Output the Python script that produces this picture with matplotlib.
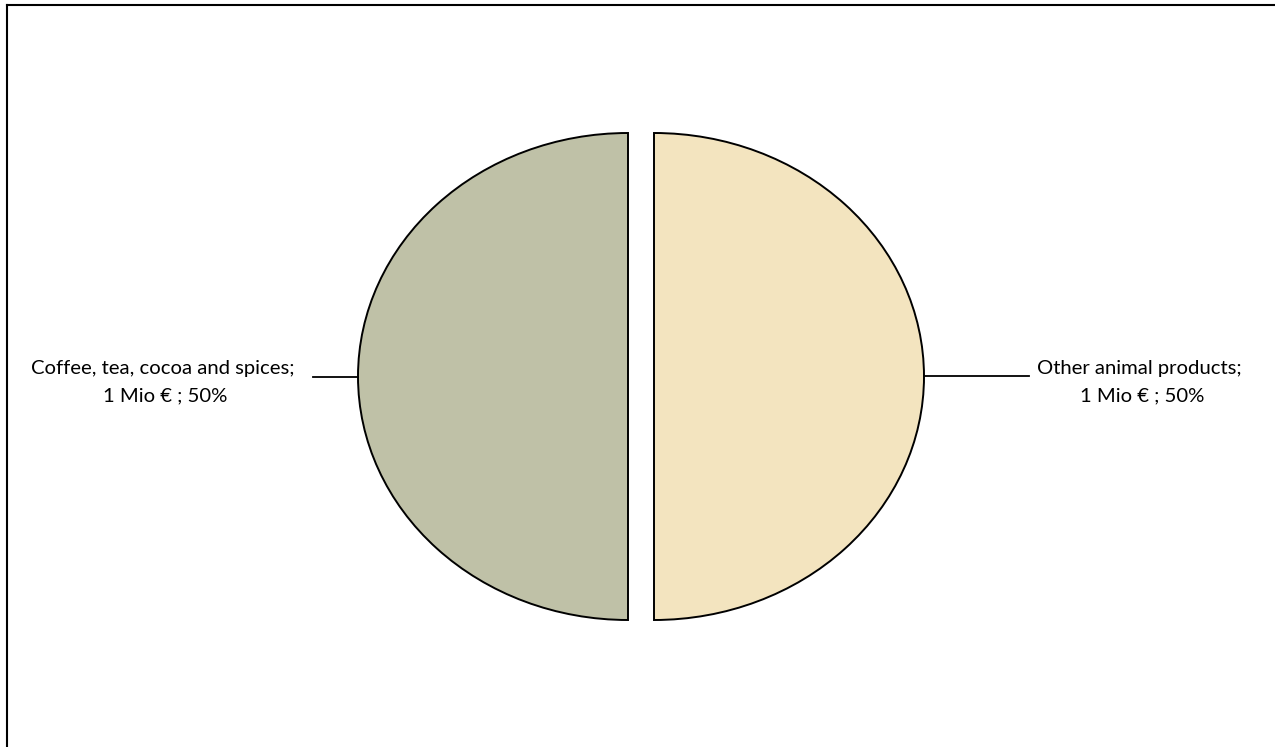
import matplotlib.pyplot as plt
from matplotlib.lines import Line2D
import numpy as np

# data (Mio €)
categories = ['Coffee, tea, cocoa and spices', 'Other animal products']
values = [1, 1]
colors = ['#bfc1a7', '#f3e4bf']

W, H = 1275, 747
fig = plt.figure(figsize=(W / 100, H / 100), dpi=100)
ax = fig.add_axes([0, 0, 1, 1])

# pixel geometry of the ellipse
cx, cy = 641, 376.5
rx, ry = 270, 243.5

wedges, _ = ax.pie(values, colors=colors, startangle=90, counterclock=True,
                   explode=[13 / rx, 13 / rx],
                   wedgeprops=dict(edgecolor='black', linewidth=1.4))

ax.set_aspect('auto')
ax.set_xlim(-cx / rx, (W - cx) / rx)
ax.set_ylim((cy - H) / ry, cy / ry)
ax.axis('off')

total = sum(values)
line_len = [45 / rx, 105 / rx]
text_x = [(165 - cx) / rx, (1142 - cx) / rx]
for i, w in enumerate(wedges):
    mid = np.deg2rad((w.theta1 + w.theta2) / 2)
    x0 = w.center[0] + w.r * np.cos(mid)
    y0 = w.center[1] + w.r * np.sin(mid)
    x1 = x0 + np.sign(np.cos(mid)) * line_len[i]
    ax.plot([x0, x1], [y0, y0], color='black', lw=1.3)
    pct = values[i] / total * 100
    label = f'{categories[i]}; \n{values[i]} Mio € ; {pct:.0f}%'
    ax.text(text_x[i], y0 - 5.5 / ry, label, ha='center', va='center',
            multialignment='center', fontsize=14.6, family=['Lato', 'DejaVu Sans'],
            linespacing=1.75, color='black')

# frame (cut at right and bottom)
fig.add_artist(Line2D([7 / W, 1], [1 - 5 / H, 1 - 5 / H], color='black', lw=1.5,
                      transform=fig.transFigure))
fig.add_artist(Line2D([7 / W, 7 / W], [1 - 5 / H, 0], color='black', lw=1.5,
                      transform=fig.transFigure))

fig.savefig('out.png', dpi=100)
